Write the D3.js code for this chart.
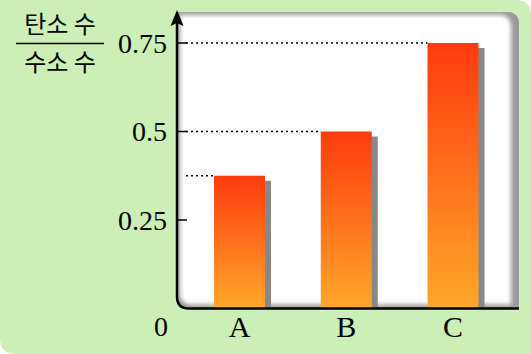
<!DOCTYPE html>
<html><head><meta charset="utf-8">
<script src="https://cdn.jsdelivr.net/npm/d3@7"></script>
<style>html,body{margin:0;padding:0;background:#fff;}svg{display:block;}</style>
</head><body>
<script>
const categories = ["A", "B", "C"];
const values = [0.375, 0.5, 0.75];
const tickValues = [0.25, 0.5, 0.75];
const tickLabels = ["0.25", "0.5", "0.75"];
const yTitleTop = "탄소 수";
const yTitleBottom = "수소 수";

const W = 531, H = 354;
const svg = d3.select("body").append("svg").attr("width", W).attr("height", H);
const defs = svg.append("defs");

const bg = "#ccefb8";
const x0 = 177, yBase = 308.5, panelTop = 12, panelRight = 519;

// outer green background with rounded top-right & bottom-left
const R = 16;
svg.append("path").attr("fill", bg)
  .attr("d", `M0,0 H${W-R} Q${W},0 ${W},${R} V${H} H${R} Q0,${H} 0,${H-R} Z`);

// panel shadow
const blur = defs.append("filter").attr("id", "blur").attr("x", "-10%").attr("y", "-10%").attr("width", "120%").attr("height", "120%");
blur.append("feGaussianBlur").attr("stdDeviation", 2.2);

const pr = 12;
function panelPath(l, t, r, b) {
  return `M${l},${t} H${r-pr} Q${r},${t} ${r},${t+pr} V${b} H${l+pr} Q${l},${b} ${l},${b-pr} Z`;
}
svg.append("path").attr("fill", "#9a9a9a").attr("d", panelPath(x0, panelTop, panelRight, yBase));
svg.append("path").attr("fill", "#ffffff").attr("filter", "url(#blur)")
  .attr("d", panelPath(x0 + 3, panelTop + 3, panelRight - 8, yBase - 4));

// scales
const y = d3.scaleLinear().domain([0, 1]).range([yBase, yBase - 354]);
const x = d3.scalePoint().domain(categories).range([239.5, 453]);
const bw = 51;

// bar gradient
const g = defs.append("linearGradient").attr("id", "barGrad").attr("x1", 0).attr("y1", 0).attr("x2", 0).attr("y2", 1);
g.append("stop").attr("offset", "0%").attr("stop-color", "#ff3a0f");
g.append("stop").attr("offset", "100%").attr("stop-color", "#ffa82a");

// dotted guide lines
svg.append("g").selectAll("line").data(values).join("line")
  .attr("x1", x0 + 9).attr("x2", (d, i) => x(categories[i]) - bw / 2)
  .attr("y1", d => y(d)).attr("y2", d => y(d))
  .attr("stroke", "#000").attr("stroke-width", 1.6).attr("stroke-dasharray", "2,3");

// bar shadows
svg.append("g").selectAll("rect").data(values).join("rect")
  .attr("x", (d, i) => x(categories[i]) - bw / 2 + 6)
  .attr("y", d => y(d) + 5)
  .attr("width", bw).attr("height", d => yBase - y(d) - 5)
  .attr("fill", "#888888");

// bars
svg.append("g").selectAll("rect").data(values).join("rect")
  .attr("x", (d, i) => x(categories[i]) - bw / 2)
  .attr("y", d => y(d))
  .attr("width", bw).attr("height", d => yBase - y(d))
  .attr("fill", "url(#barGrad)");

// axis line with rounded corner
const ar = 12;
svg.append("path").attr("fill", "none").attr("stroke", "#000").attr("stroke-width", 2.5)
  .attr("d", `M${x0},${panelTop + 10} V${yBase - ar} Q${x0},${yBase} ${x0 + ar},${yBase} H${panelRight}`);
// arrow head
svg.append("path").attr("fill", "#000")
  .attr("d", `M${x0},${panelTop - 2} L${x0 + 6.5},${panelTop + 14} L${x0},${panelTop + 11} L${x0 - 6.5},${panelTop + 14} Z`);

// ticks
svg.append("g").selectAll("line").data(tickValues).join("line")
  .attr("x1", x0).attr("x2", x0 + 10)
  .attr("y1", d => y(d)).attr("y2", d => y(d))
  .attr("stroke", "#000").attr("stroke-width", 1.5);

const serif = "'Liberation Serif', 'DejaVu Serif', serif";
svg.append("g").selectAll("text").data(tickValues).join("text")
  .attr("x", 167).attr("y", d => y(d)).attr("dy", "0.35em")
  .attr("text-anchor", "end").attr("font-family", serif).attr("font-size", 28)
  .text((d, i) => tickLabels[i]);
svg.append("text").attr("x", 161).attr("y", y(0) + 18).attr("dy", "0.35em")
  .attr("text-anchor", "middle").attr("font-family", serif).attr("font-size", 28).text("0");

// category labels
svg.append("g").selectAll("text").data(categories).join("text")
  .attr("x", d => x(d)).attr("y", 337)
  .attr("text-anchor", "middle").attr("font-family", serif).attr("font-size", 30)
  .text(d => d);

// y title fraction
const kfont = "'Noto Sans CJK KR', 'Noto Sans', sans-serif";
svg.append("text").attr("x", 60).attr("y", 33).attr("text-anchor", "middle")
  .attr("font-family", kfont).attr("font-size", 24).text(yTitleTop);
svg.append("line").attr("x1", 16).attr("x2", 104).attr("y1", 43.5).attr("y2", 43.5)
  .attr("stroke", "#000").attr("stroke-width", 1.5);
svg.append("text").attr("x", 60).attr("y", 71).attr("text-anchor", "middle")
  .attr("font-family", kfont).attr("font-size", 24).text(yTitleBottom);
</script>
</body></html>
